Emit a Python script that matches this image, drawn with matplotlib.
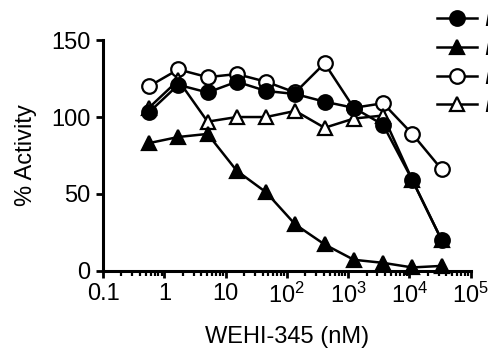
import matplotlib
matplotlib.use("Agg")
import matplotlib.pyplot as plt
from matplotlib.ticker import LogLocator, FixedLocator, NullFormatter

plt.rcParams['font.family'] = ['Liberation Sans', 'DejaVu Sans']
plt.rcParams['mathtext.default'] = 'regular'

conc_nM = [0.56, 1.69, 5.08, 15.2, 45.7, 137, 412, 1235, 3704, 11111, 33333]
series_filled_circle = [103, 121, 116, 123, 117, 115, 110, 106, 95, 59, 20]
series_filled_triangle = [83, 87, 89, 65, 51, 30, 17, 7, 5, 2, 3]
series_open_circle = [120, 131, 126, 128, 123, 116, 135, 106, 109, 89, 66]
series_open_triangle = [106, 124, 97, 100, 100, 104, 93, 99, 101, 59, 20]
legend_labels = ["RIPK2", "RIPK2", "RIPK2", "RIPK2"]
x_ticks = [0.1, 1, 10, 100, 1000, 10000, 100000]
x_ticklabels = ["0.1", "1", "10", "$10^2$", "$10^3$", "$10^4$", "$10^5$"]
y_ticks = [0, 50, 100, 150]

fig = plt.figure(figsize=(4.89, 3.52), dpi=100)
ax = fig.add_axes([0.2107, 0.2315, 0.752, 0.654])

lw = 1.8
ms = 10.5
mew = 1.6
oc, = ax.plot(conc_nM, series_open_circle, '-o', color='black', lw=lw, ms=ms,
              mfc='white', mec='black', mew=mew, zorder=3, clip_on=False)
ot, = ax.plot(conc_nM, series_open_triangle, '-^', color='black', lw=lw, ms=ms,
              mfc='white', mec='black', mew=mew, zorder=3, clip_on=False)
ft, = ax.plot(conc_nM, series_filled_triangle, '-^', color='black', lw=lw, ms=ms,
              mfc='black', mec='black', mew=mew, zorder=4, clip_on=False)
fc, = ax.plot(conc_nM, series_filled_circle, '-o', color='black', lw=lw, ms=ms,
              mfc='black', mec='black', mew=mew, zorder=5, clip_on=False)

ax.set_xscale('log')
ax.set_xlim(0.1, 1e5)
ax.set_ylim(0, 150)
ax.xaxis.set_major_locator(FixedLocator(x_ticks))
ax.set_xticklabels(x_ticklabels)
ax.xaxis.set_minor_locator(LogLocator(base=10, subs=range(2, 10), numticks=20))
ax.xaxis.set_minor_formatter(NullFormatter())
ax.set_yticks(y_ticks)

for s in ['top', 'right']:
    ax.spines[s].set_visible(False)
for s in ['left', 'bottom']:
    ax.spines[s].set_linewidth(2.2)

ax.tick_params(axis='both', which='major', direction='out', length=5, width=2.0,
               labelsize=17, pad=4)
ax.tick_params(axis='x', which='minor', direction='out', length=3.5, width=1.6)

ax.set_ylabel("% Activity", fontsize=17, labelpad=10)
ax.set_xlabel("WEHI-345 (nM)", fontsize=17, labelpad=13)

handles = [fc, ft, oc, ot]
leg = fig.legend(handles, legend_labels, loc='upper left',
                 bbox_to_anchor=(0.893, 0.976), frameon=False, fontsize=17,
                 handlelength=1.7, handletextpad=0.3, labelspacing=0.24,
                 borderpad=0, borderaxespad=0)
for t in leg.get_texts():
    t.set_fontstyle('italic')

fig.savefig("out.png", dpi=100)
